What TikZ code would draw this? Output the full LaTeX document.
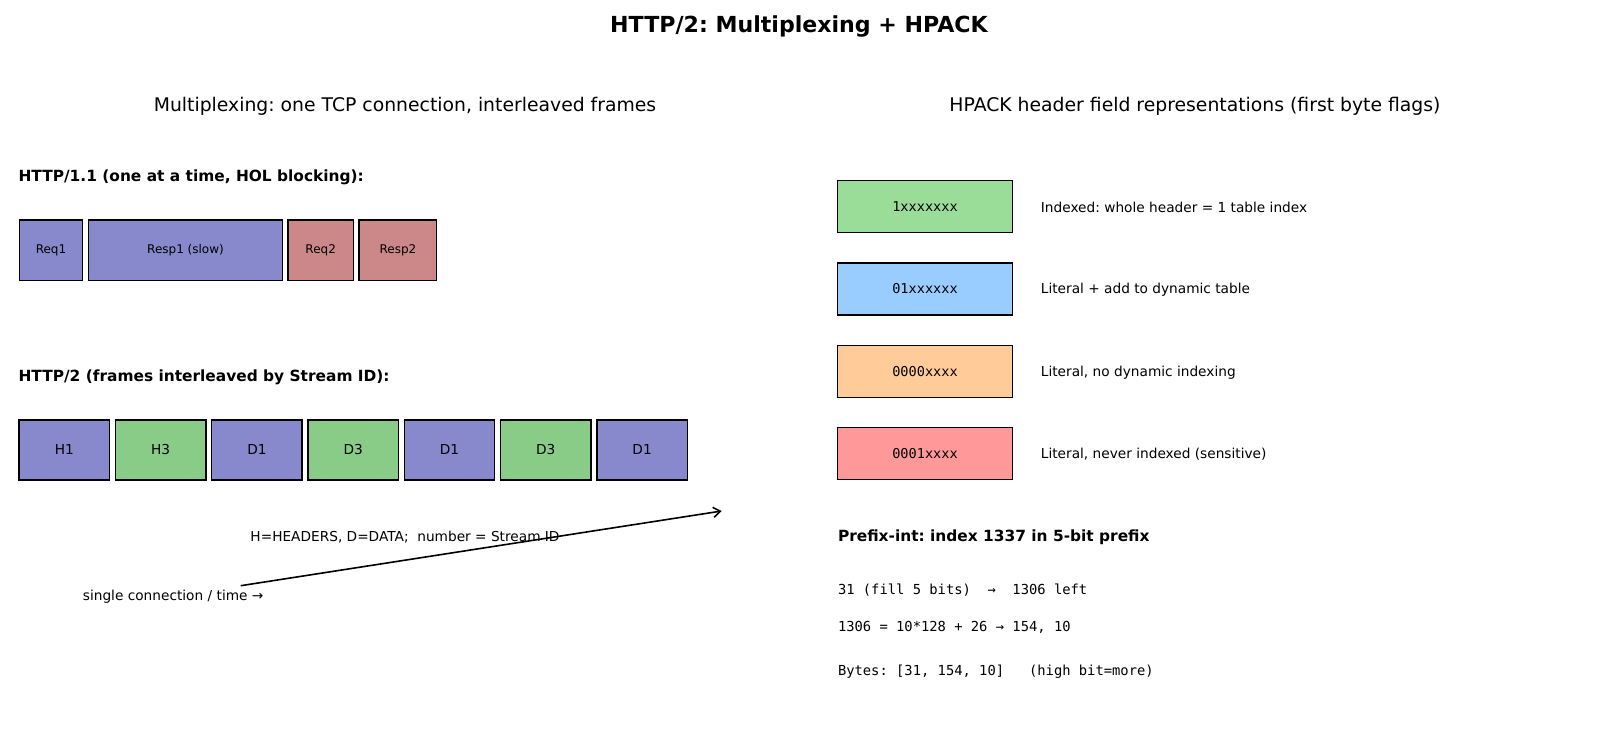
\documentclass[tikz,border=0pt]{standalone}
\usepackage{fontspec}
\setmainfont{DejaVu Sans}
\setmonofont{DejaVu Sans Mono}
\usetikzlibrary{arrows.meta}
\definecolor{streamone}{HTML}{8888CC}
\definecolor{streamthree}{HTML}{88CC88}
\definecolor{blocked}{HTML}{CC8888}
\definecolor{flagidx}{HTML}{99DD99}
\definecolor{flaglit}{HTML}{99CCFF}
\definecolor{flagnolit}{HTML}{FFCC99}
\definecolor{flagnever}{HTML}{FF9999}
\frenchspacing
\begin{document}
\begin{tikzpicture}[x=1pt,y=-1pt,
    box/.style={draw=black,line width=1.4pt,inner sep=0pt},
    oldbox/.style={box,minimum height=60.7pt,font=\fontsize{12}{14}\selectfont},
    framebox/.style={box,minimum width=90.5pt,minimum height=60pt,font=\fontsize{13.7}{16}\selectfont},
    flagbox/.style={box,minimum width=175.4pt,minimum height=52pt,font=\ttfamily\fontsize{13.6}{16}\selectfont},
    plain/.style={inner sep=0pt,font=\fontsize{13.7}{16}\selectfont},
    head/.style={inner sep=0pt,anchor=west,font=\bfseries\fontsize{15.4}{18}\selectfont},
    mono/.style={inner sep=0pt,anchor=west,font=\ttfamily\fontsize{13.8}{16}\selectfont}]
  \useasboundingbox (0,0) rectangle (1600,738);
  % titles
  \node[inner sep=0pt,font=\bfseries\fontsize{22.1}{26}\selectfont] (title) at (799,26) {HTTP/2: Multiplexing + HPACK};
  \node[inner sep=0pt,font=\fontsize{18.8}{22}\selectfont] (muxtitle) at (405,106) {Multiplexing: one TCP connection, interleaved frames};
  \node[inner sep=0pt,font=\fontsize{18.8}{22}\selectfont] (hpacktitle) at (1195,106) {HPACK header field representations (first byte flags)};

  % HTTP/1.1
  \node[head] (oldhead) at (18.4,177) {HTTP/1.1 (one at a time, HOL blocking):};
  \node[oldbox,fill=streamone,minimum width=63.4pt] (req1) at (51,250.3) {Req1};
  \node[oldbox,fill=streamone,minimum width=194.4pt] (resp1) at (185.5,250.3) {Resp1 (slow)};
  \node[oldbox,fill=blocked,minimum width=65.3pt] (req2) at (320.7,250.3) {Req2};
  \node[oldbox,fill=blocked,minimum width=77.7pt] (resp2) at (397.9,250.3) {Resp2};

  % HTTP/2
  \node[head] (newhead) at (18.4,377) {HTTP/2 (frames interleaved by Stream ID):};
  \node[framebox,fill=streamone] (f1) at (64.3,450) {H1};
  \node[framebox,fill=streamthree] (f2) at (160.6,450) {H3};
  \node[framebox,fill=streamone] (f3) at (256.9,450) {D1};
  \node[framebox,fill=streamthree] (f4) at (353.2,450) {D3};
  \node[framebox,fill=streamone] (f5) at (449.5,450) {D1};
  \node[framebox,fill=streamthree] (f6) at (545.8,450) {D3};
  \node[framebox,fill=streamone] (f7) at (642.1,450) {D1};

  \node[plain] (legend) at (405,537) {H=HEADERS, D=DATA;\ \ number = Stream ID};
  \node[plain,anchor=west] (timelabel) at (82.7,596.5) {single connection / time →};
  \coordinate (timetail) at (240.7,585.7);
  \coordinate (timetip) at (721.7,511);
  \draw[line width=1.6pt,-{Straight Barb[length=7pt,width=10pt]}] (timetail) -- (timetip);

  % HPACK flags
  \node[flagbox,fill=flagidx] (idx) at (925,206.7) {1xxxxxxx};
  \node[flagbox,fill=flaglit] (lit) at (925,289) {01xxxxxx};
  \node[flagbox,fill=flagnolit] (nolit) at (925,371.3) {0000xxxx};
  \node[flagbox,fill=flagnever] (never) at (925,453.6) {0001xxxx};
  \node[plain,anchor=west] (idxtext) at (1040.7,207.5) {Indexed: whole header = 1 table index};
  \node[plain,anchor=west] (littext) at (1040.7,290) {Literal + add to dynamic table};
  \node[plain,anchor=west] (nolittext) at (1040.7,372.3) {Literal, no dynamic indexing};
  \node[plain,anchor=west] (nevertext) at (1040.7,454.6) {Literal, never indexed (sensitive)};

  % prefix integer
  \node[head] (prefixhead) at (837.8,537) {Prefix-int: index 1337 in 5-bit prefix};
  \node[mono] (step1) at (837.8,590) {31 (fill 5 bits)\ \ →\ \ 1306 left};
  \node[mono] (step2) at (837.8,627) {1306 = 10*128 + 26 → 154, 10};
  \node[mono] (step3) at (837.8,671.5) {Bytes: [31, 154, 10]\ \ \ (high bit=more)};
\end{tikzpicture}
\end{document}
